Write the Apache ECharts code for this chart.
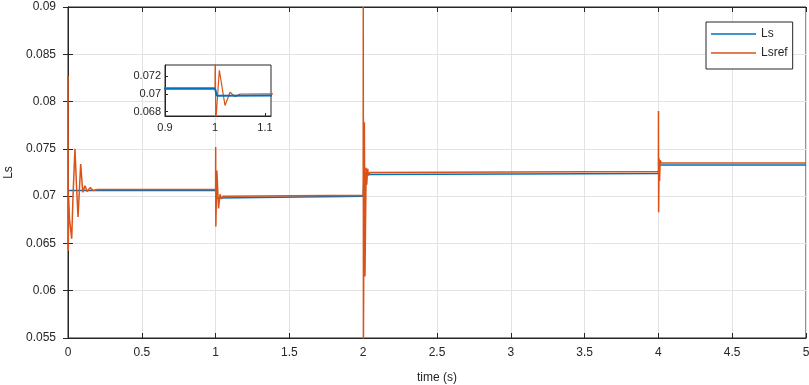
<!DOCTYPE html>
<html>
<head>
<meta charset="utf-8">
<script src="https://cdn.jsdelivr.net/npm/echarts@6/dist/echarts.min.js"></script>
<style>
  html, body { margin: 0; padding: 0; background: #fff; }
  #chart { width: 809px; height: 385px; }
</style>
</head>
<body>
<div id="chart"></div>
<script>
// Ls (measured) - mostly steps
var lsTime = [0, 1.000, 1.004, 1.008, 2.000, 2.006, 2.012, 4.000, 4.006, 5];
var lsVal  = [0.0706, 0.0706, 0.0698, 0.0700, 0.0700, 0.0723, 0.0723, 0.0724, 0.0733, 0.0733];

// Lsref - with transients at 0, 1, 2 and 4 s
var refTime = [
  0, 0.002, 0.004, 0.01, 0.025, 0.034, 0.047, 0.059, 0.068, 0.086, 0.10, 0.115, 0.13, 0.15, 0.17, 0.2,
  1.000, 1.0005, 1.0015, 1.0087, 1.02, 1.03, 1.04, 1.05, 1.06,
  2.000, 2.0005, 2.0015, 2.008, 2.012, 2.02, 2.024, 2.03, 2.036, 2.045,
  4.000, 4.0005, 4.0015, 4.005, 4.008, 4.012, 4.02, 5
];
var refVal = [
  0.0827, 0.0642, 0.0700, 0.0676, 0.0655, 0.0700, 0.0750, 0.0706, 0.0678, 0.0734, 0.0704, 0.0711, 0.0705, 0.0709, 0.0706, 0.0707,
  0.0707, 0.0752, 0.0668, 0.0727, 0.0687, 0.0702, 0.0697, 0.0700, 0.0700,
  0.0701, 0.0900, 0.0546, 0.0778, 0.0615, 0.0730, 0.0712, 0.0729, 0.0722, 0.0725,
  0.0726, 0.0790, 0.0683, 0.0740, 0.0716, 0.0738, 0.0735, 0.0735
];

var xTicksInset = [0.9, 1, 1.1];
var yTicksInset = [0.068, 0.07, 0.072];

function pairs(t, v) {
  var out = [];
  for (var i = 0; i < t.length; i++) out.push([t[i], v[i]]);
  return out;
}
var lsData = pairs(lsTime, lsVal);
var refData = pairs(refTime, refVal);

var txt = '#262626';
var font = 'Liberation Sans, Arial, sans-serif';
var blue = '#0072BD';
var orange = '#D95319';

var chart = echarts.init(document.getElementById('chart'));
var option = {
  animation: false,
  textStyle: { fontFamily: font },
  legend: {
    data: ['Ls', 'Lsref'],
    orient: 'vertical',
    left: 706,
    top: 22,
    padding: [5, 5, 9, 5],
    itemWidth: 45,
    itemHeight: 1.5,
    itemGap: 5,
    icon: 'rect',
    borderColor: txt,
    borderWidth: 1,
    backgroundColor: '#fff',
    textStyle: { color: txt, fontSize: 12, fontFamily: font, lineHeight: 14 }
  },
  grid: [
    { left: 68, right: 3, top: 7, bottom: 47, outerBoundsMode: 'none', show: true, borderColor: txt, borderWidth: 1, backgroundColor: '#fff' },
    { left: 165, top: 65, width: 106, height: 51, outerBoundsMode: 'none', show: true, borderColor: txt, borderWidth: 1, backgroundColor: '#fff', z: 5 }
  ],
  xAxis: [
    {
      type: 'value', gridIndex: 0, min: 0, max: 5, interval: 0.5,
      name: 'time (s)', nameLocation: 'middle', nameGap: 34,
      nameTextStyle: { color: txt, fontSize: 12, fontFamily: font },
      axisLine: { lineStyle: { color: txt } },
      axisTick: { inside: true, length: 5, lineStyle: { color: txt } },
      axisLabel: { color: txt, fontSize: 12, margin: 9, fontFamily: font },
      splitLine: { show: true, lineStyle: { color: '#e3e3e3' } }
    },
    {
      type: 'value', gridIndex: 0, position: 'top', min: 0, max: 5, interval: 0.5,
      axisLine: { lineStyle: { color: txt } },
      axisTick: { inside: true, length: 5, lineStyle: { color: txt } },
      axisLabel: { show: false },
      splitLine: { show: false }
    },
    {
      type: 'value', gridIndex: 1, min: 0.9, max: 1.112, z: 6,
      axisLine: { lineStyle: { color: txt } },
      axisTick: { inside: true, length: 3, customValues: xTicksInset, lineStyle: { color: txt } },
      axisLabel: {
        customValues: xTicksInset, color: txt, fontSize: 11, margin: 6, fontFamily: font,
        formatter: function (v) { return String(+v.toFixed(3)); }
      },
      splitLine: { show: false }
    }
  ],
  yAxis: [
    {
      type: 'value', gridIndex: 0, min: 0.055, max: 0.09, interval: 0.005,
      name: 'Ls', nameLocation: 'middle', nameGap: 52, nameRotate: 90,
      nameTextStyle: { color: txt, fontSize: 12, fontFamily: font },
      axisLine: { lineStyle: { color: txt } },
      axisTick: { inside: true, length: 5, lineStyle: { color: txt } },
      axisLabel: {
        color: txt, fontSize: 12, margin: 12, fontFamily: font,
        formatter: function (v) { return String(+v.toFixed(3)); }
      },
      splitLine: { show: true, lineStyle: { color: '#e3e3e3' } }
    },
    {
      type: 'value', gridIndex: 0, position: 'right', min: 0.055, max: 0.09, interval: 0.005,
      axisLine: { lineStyle: { color: txt } },
      axisTick: { inside: true, length: 5, lineStyle: { color: txt } },
      axisLabel: { show: false },
      splitLine: { show: false }
    },
    {
      type: 'value', gridIndex: 1, min: 0.0675, max: 0.0733, z: 6,
      axisLine: { lineStyle: { color: txt } },
      axisTick: { inside: true, length: 3, customValues: yTicksInset, lineStyle: { color: txt } },
      axisLabel: {
        customValues: yTicksInset, color: txt, fontSize: 11, margin: 4, fontFamily: font,
        formatter: function (v) { return String(+v.toFixed(4)); }
      },
      splitLine: { show: false }
    }
  ],
  series: [
    {
      name: 'Ls', type: 'line', xAxisIndex: 0, yAxisIndex: 0, data: lsData,
      showSymbol: false, clip: true, color: blue,
      lineStyle: { color: blue, width: 1.5 }
    },
    {
      name: 'Lsref', type: 'line', xAxisIndex: 0, yAxisIndex: 0, data: refData,
      showSymbol: false, clip: true, color: orange,
      lineStyle: { color: orange, width: 1.5 }
    },
    {
      name: 'Lsref', type: 'line', xAxisIndex: 2, yAxisIndex: 2, data: refData,
      showSymbol: false, clip: true, color: orange, z: 7,
      lineStyle: { color: orange, width: 1.2 }
    },
    {
      name: 'Ls', type: 'line', xAxisIndex: 2, yAxisIndex: 2, data: lsData,
      showSymbol: false, clip: true, color: blue, z: 8,
      lineStyle: { color: blue, width: 2 }
    }
  ]
};
chart.setOption(option);
</script>
</body>
</html>
